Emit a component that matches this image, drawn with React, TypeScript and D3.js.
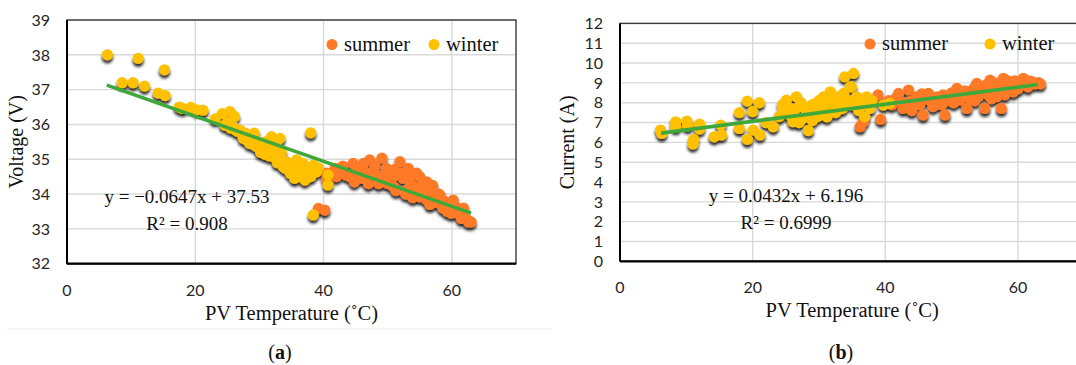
import React from 'react';
import * as d3 from 'd3';

// (a) PV temperature (˚C) vs voltage (V)
const voltSummer: [number, number][] = [
  [39.2, 33.59], [40.2, 33.54], [40.5, 34.43], [40.5, 34.6], [41.8, 34.74], [42.0, 34.5], [42.6, 34.64],
  [43.0, 34.8], [43.5, 34.55], [44.1, 34.5], [44.6, 34.88], [44.8, 34.35], [45.3, 34.7], [45.7, 34.6],
  [46.0, 34.45], [46.2, 34.88], [46.8, 34.6], [47.0, 34.3], [47.2, 34.98], [47.7, 34.4], [48.0, 34.8],
  [48.3, 34.55], [48.6, 34.3], [49.0, 34.5], [49.1, 35.03], [49.5, 34.35], [49.8, 34.74], [50.0, 34.3],
  [50.3, 34.6], [50.9, 34.5], [50.9, 34.21], [51.0, 34.7], [51.3, 34.1], [51.9, 34.93], [52.0, 34.6],
  [52.4, 34.45], [52.8, 34.0], [53.0, 34.12], [53.2, 34.74], [53.5, 34.5], [53.6, 34.3], [53.9, 33.9],
  [54.3, 34.2], [54.5, 34.6], [54.6, 34.0], [55.0, 34.5], [55.0, 33.92], [55.5, 34.3], [55.6, 34.1],
  [56.0, 33.85], [56.1, 34.35], [56.6, 33.7], [56.8, 34.15], [57.0, 34.25], [57.1, 34.07], [57.6, 33.83],
  [57.8, 33.75], [58.0, 34.0], [58.2, 33.95], [58.6, 33.6], [58.8, 33.8], [59.2, 33.64], [59.3, 33.5],
  [59.8, 33.75], [59.9, 33.45], [60.2, 33.83], [60.5, 33.65], [60.7, 33.54], [61.2, 33.4], [61.5, 33.3],
  [61.8, 33.6], [62.2, 33.3], [62.6, 33.2], [63.0, 33.2],
];
const voltWinter: [number, number][] = [
  [6.3, 38.0], [8.6, 37.2], [10.3, 37.2], [11.1, 37.9], [12.1, 37.1], [14.2, 36.9], [15.3, 36.83],
  [15.2, 37.57], [17.5, 36.5], [18.0, 36.46], [19.3, 36.49], [20.2, 36.42], [21.2, 36.41], [23.1, 36.16],
  [24.2, 36.31], [25.4, 36.37], [26.1, 36.23], [24.6, 35.98], [25.0, 36.05], [25.5, 35.9], [25.8, 35.95],
  [26.2, 35.85], [26.6, 35.8], [27.0, 35.84], [27.3, 35.72], [27.5, 35.6], [27.8, 35.75], [28.0, 35.55],
  [28.4, 35.68], [28.5, 35.45], [28.8, 35.5], [29.0, 35.6], [29.2, 35.75], [29.4, 35.38], [29.8, 35.5],
  [30.0, 35.3], [30.2, 35.2], [30.6, 35.36], [30.8, 35.15], [31.0, 35.5], [31.2, 35.28], [31.5, 35.1],
  [31.9, 35.65], [32.0, 35.3], [32.2, 35.07], [32.6, 35.4], [32.8, 34.9], [33.0, 35.0], [33.2, 35.6],
  [33.4, 35.2], [33.7, 34.79], [34.0, 34.75], [34.2, 34.93], [34.5, 34.7], [34.8, 34.6], [35.0, 34.64],
  [35.3, 34.8], [35.5, 34.45], [35.8, 34.98], [36.0, 34.75], [36.3, 34.5], [36.5, 34.65], [36.8, 34.88],
  [37.1, 34.4], [37.3, 34.75], [37.6, 34.6], [38.0, 34.5], [38.0, 35.76], [38.4, 34.83], [38.9, 34.64],
  [39.2, 34.75], [38.4, 33.4], [40.7, 34.55], [40.7, 34.26],
];

// (b) PV temperature (˚C) vs current (A)
const currSummer: [number, number][] = [
  [36.2, 6.79], [36.7, 7.04], [39.3, 7.16], [38.9, 8.39], [40.5, 8.1], [41.0, 7.9], [41.5, 8.2],
  [42.0, 8.47], [42.5, 8.0], [42.7, 7.71], [43.5, 8.64], [43.7, 8.05], [44.0, 7.6], [44.3, 8.1],
  [44.7, 8.3], [45.2, 7.9], [45.5, 8.45], [45.7, 7.38], [46.0, 8.2], [46.5, 8.47], [46.8, 8.1],
  [47.2, 7.8], [47.8, 8.3], [48.2, 8.13], [48.5, 7.9], [48.7, 8.4], [49.0, 7.38], [49.3, 8.1],
  [49.8, 8.3], [50.0, 8.5], [50.3, 8.0], [50.8, 8.72], [51.0, 8.3], [51.3, 8.13], [51.8, 8.4],
  [52.0, 8.6], [52.3, 7.71], [52.3, 8.47], [52.8, 8.2], [53.0, 8.3], [53.3, 8.7], [53.5, 8.1],
  [53.8, 8.97], [54.0, 8.3], [54.3, 8.5], [54.8, 8.64], [55.0, 7.71], [55.2, 8.9], [55.5, 8.4],
  [55.8, 9.14], [55.8, 8.6], [56.0, 8.2], [56.3, 8.8], [56.5, 9.0], [56.8, 8.3], [57.0, 8.6],
  [57.3, 8.9], [57.5, 7.71], [57.8, 9.23], [57.8, 8.8], [58.0, 8.4], [58.3, 8.6], [58.5, 9.1],
  [58.8, 9.0], [59.0, 8.75], [59.3, 8.55], [59.5, 9.1], [59.8, 8.9], [60.0, 8.7], [60.3, 9.05],
  [60.5, 8.9], [60.8, 9.23], [61.0, 9.1], [61.3, 8.95], [61.5, 8.8], [61.8, 9.1], [62.1, 9.06],
  [62.3, 9.0], [62.6, 8.95], [63.1, 9.01], [63.4, 8.95],
];
const currWinter: [number, number][] = [
  [6.1, 6.62], [6.3, 6.45], [8.4, 7.04], [8.4, 6.79], [10.1, 7.07], [10.2, 6.84], [11.0, 5.92],
  [11.1, 6.15], [12.0, 6.92], [12.0, 6.67], [14.2, 6.28], [15.3, 6.37], [15.2, 6.87], [18.0, 7.5],
  [18.0, 6.7], [19.2, 8.08], [19.2, 6.15], [20.0, 7.55], [20.1, 6.62], [21.0, 8.0], [21.1, 6.37],
  [22.0, 7.0], [23.1, 6.79], [24.0, 7.3], [24.5, 7.6], [24.5, 7.9], [25.1, 8.13], [25.5, 7.4],
  [25.8, 7.7], [26.0, 7.25], [26.1, 7.04], [26.2, 7.5], [26.6, 8.3], [27.0, 7.8], [27.0, 7.0],
  [27.3, 8.0], [27.5, 7.2], [28.0, 7.3], [28.1, 7.55], [28.4, 6.59], [28.6, 7.8], [29.0, 7.9],
  [29.0, 7.1], [29.2, 7.6], [29.6, 7.97], [29.8, 7.3], [30.0, 8.1], [30.2, 7.6], [30.5, 7.8],
  [30.7, 8.3], [31.0, 7.9], [31.2, 7.29], [31.5, 8.2], [31.7, 8.55], [32.0, 7.6], [32.2, 7.8],
  [32.5, 7.5], [32.8, 8.3], [33.2, 7.97], [33.5, 7.7], [33.7, 8.47], [33.9, 9.31], [34.0, 8.2],
  [34.3, 8.0], [34.7, 8.8], [34.9, 8.8], [35.0, 7.9], [35.2, 9.48], [35.7, 8.3], [35.7, 8.05],
  [36.0, 7.6], [36.3, 8.1], [36.9, 7.29], [37.0, 7.9], [37.2, 8.3], [37.7, 7.71], [38.0, 8.1],
  [39.7, 7.88], [40.7, 7.97],
];

const xTicks = [0, 20, 40, 60];
const voltTicks = [32, 33, 34, 35, 36, 37, 38, 39];
const currTicks = [0, 1, 2, 3, 4, 5, 6, 7, 8, 9, 10, 11, 12];

// linear fits as printed on the chart: [slope, intercept], drawn over the data range
const voltFit = [-0.0647, 37.53];
const currFit = [0.0432, 6.196];
const fitRange = [6.2, 63];
const voltEq = ['y = −0.0647x + 37.53', 'R² = 0.908'];
const currEq = ['y = 0.0432x + 6.196', 'R² = 0.6999'];

const seriesNames = ['summer', 'winter'];
const seriesColors = ['#FF7A26', '#FFC000'];

const serif = '"Liberation Serif", "Times New Roman", serif';
const sans = 'Lato, "Open Sans", sans-serif';

function Panel(props: any) {
  const { id, frame, yDomain, yTicks, yTitle, summer, winter, fit, eq, L } = props;
  const x = d3.scaleLinear().domain([0, 70]).range([frame.left, frame.right]);
  const y = d3.scaleLinear().domain(yDomain).range([frame.bottom, frame.top]);
  const fitLine = d3.line<number>().x(t => x(t)).y(t => y(fit[0] * t + fit[1]));

  return (
    <g>
      {/* grid */}
      {yTicks.map((t: number) => (
        <line key={'gy' + t} x1={frame.left} x2={frame.right} y1={y(t)} y2={y(t)} stroke="#d9d9d9" strokeWidth={1.4} />
      ))}
      {xTicks.slice(1).map(t => (
        <line key={'gx' + t} x1={x(t)} x2={x(t)} y1={frame.top} y2={frame.bottom} stroke="#d9d9d9" strokeWidth={1.4} />
      ))}
      {/* frame */}
      <rect x={frame.left} y={frame.top} width={frame.right - frame.left} height={frame.bottom - frame.top}
        fill="none" stroke="#3a3a3a" strokeWidth={1.4} />
      <line x1={frame.left} x2={frame.right} y1={frame.bottom} y2={frame.bottom} stroke="#000" strokeWidth={2.2} />
      <line x1={frame.left} x2={frame.left} y1={frame.top} y2={frame.bottom} stroke="#000" strokeWidth={2} />

      {/* points */}
      <g filter={`url(#shadow-${id})`}>
        {summer.map((d: number[], i: number) => (
          <circle key={'s' + i} cx={x(d[0])} cy={y(d[1])} r={5.6} fill={seriesColors[0]} />
        ))}
        {winter.map((d: number[], i: number) => (
          <circle key={'w' + i} cx={x(d[0])} cy={y(d[1])} r={5.6} fill={seriesColors[1]} />
        ))}
      </g>
      <path d={fitLine(fitRange) || ''} fill="none" stroke="#3FA83A" strokeWidth={3.6} />

      {/* y ticks */}
      {yTicks.map((t: number) => (
        <text key={'ty' + t} x={frame.left - 17} y={y(t)} dy="0.36em" textAnchor="end"
          fontFamily={sans} fontSize={16} fill="#262626">{t}</text>
      ))}
      {/* x ticks */}
      {xTicks.map(t => (
        <text key={'tx' + t} x={x(t)} y={L.xTickY} textAnchor="middle"
          fontFamily={sans} fontSize={16} fill="#262626">{t}</text>
      ))}

      <text x={(frame.left + frame.right) / 2} y={L.xTitleY} textAnchor="middle" fontFamily={serif} fontSize={20.5} fill="#111">
        PV Temperature (˚C)
      </text>
      <text transform={`translate(${L.yTitleX},${(frame.top + frame.bottom) / 2}) rotate(-90)`} textAnchor="middle"
        dy="0.35em" fontFamily={serif} fontSize={20} fill="#111">{yTitle}</text>

      {/* equation */}
      <text x={L.eqX} y={L.eqY} textAnchor="middle" fontFamily={serif} fontSize={19} fill="#111">{eq[0]}</text>
      <text x={L.eqX} y={L.eqY + 27} textAnchor="middle" fontFamily={serif} fontSize={19} fill="#111">{eq[1]}</text>

      {/* legend */}
      {seriesNames.map((name, i) => (
        <g key={name} transform={`translate(${L.legendX[i]},${L.legendY})`}>
          <circle cx={0} cy={0} r={5.5} fill={seriesColors[i]} />
          <text x={12} y={0} dy="0.3em" fontFamily={serif} fontSize={20.5} fill="#111">{name}</text>
        </g>
      ))}

      <text x={L.capX} y={L.capY} textAnchor="middle" fontFamily={serif} fontSize={20} fill="#111">
        (<tspan fontWeight="bold">{L.cap}</tspan>)
      </text>
    </g>
  );
}

export default function App() {
  return (
    <svg width={1076} height={365} style={{ position: 'absolute', left: 0, top: 0, background: '#fff' }}>
      <defs>
        {['a', 'b'].map(id => (
          <filter key={id} id={`shadow-${id}`} x="-10%" y="-10%" width="120%" height="130%">
            <feDropShadow dx={0} dy={3} stdDeviation={1.6} floodColor="#000" floodOpacity={0.85} />
          </filter>
        ))}
      </defs>
      <line x1={7} x2={552} y1={329} y2={329} stroke="#f0f0f0" strokeWidth={1} />
      <Panel
        id="a"
        frame={{ left: 67, right: 516, top: 20, bottom: 263.7 }}
        yDomain={[32, 39]}
        yTicks={voltTicks}
        yTitle="Voltage (V)"
        summer={voltSummer}
        winter={voltWinter}
        fit={voltFit}
        eq={voltEq}
        L={{ xTickY: 296, xTitleY: 320, yTitleX: 16, eqX: 187, eqY: 203, legendX: [332, 434], legendY: 44.5, capX: 280, capY: 359, cap: 'a' }}
      />
      <Panel
        id="b"
        frame={{ left: 620, right: 1084.3, top: 23.4, bottom: 261.3 }}
        yDomain={[0, 12]}
        yTicks={currTicks}
        yTitle="Current (A)"
        summer={currSummer}
        winter={currWinter}
        fit={currFit}
        eq={currEq}
        L={{ xTickY: 293, xTitleY: 317, yTitleX: 567, eqX: 786, eqY: 202, legendX: [870, 990], legendY: 44, capX: 841, capY: 359, cap: 'b' }}
      />
    </svg>
  );
}
